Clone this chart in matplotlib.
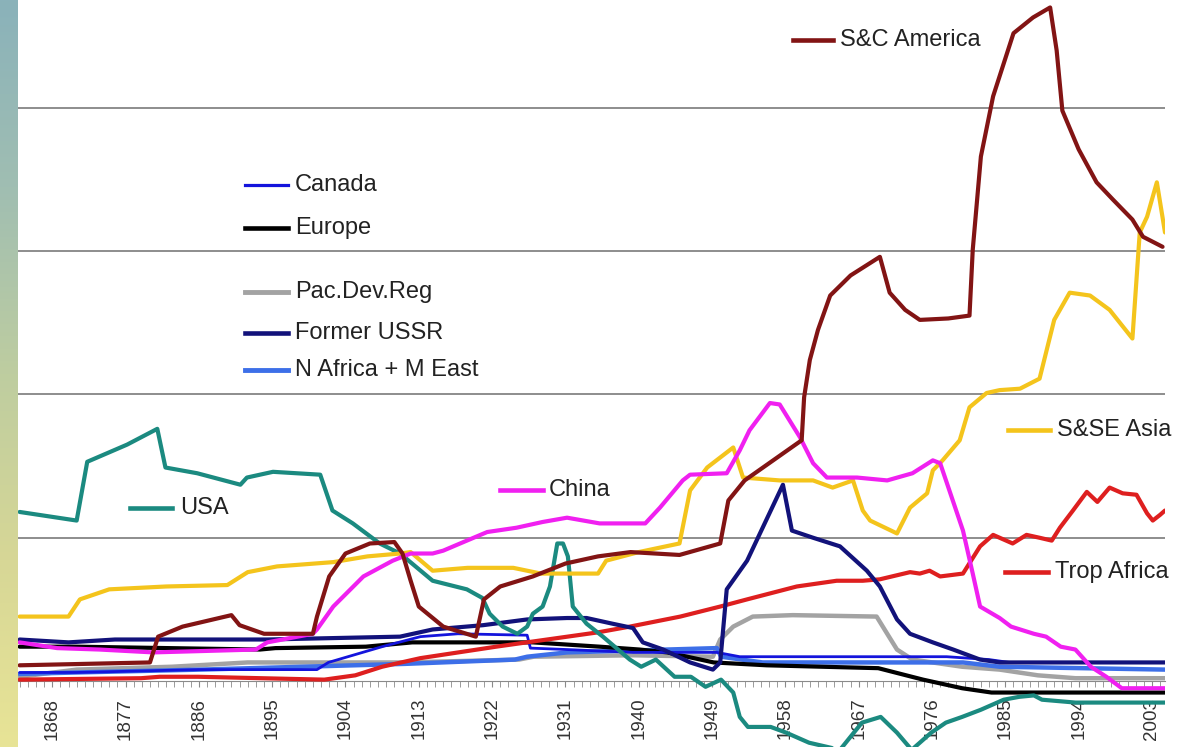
import numpy as np
import matplotlib
matplotlib.use("Agg")
import matplotlib.pyplot as plt
from matplotlib.lines import Line2D

plt.rcParams['font.family'] = ['Liberation Sans', 'DejaVu Sans']

# ---- data (one grid step = 1 unit) ----
usa_years = [1864, 1871, 1872.3, 1877.2, 1880.9, 1881.9, 1885.8, 1891.1, 1891.9, 1895.1,
             1900.9, 1902.4, 1904.9, 1908.2, 1910.7, 1914.7, 1918.9, 1920.8, 1921.7, 1923.3,
             1925.1, 1926.3, 1927.0, 1928.2, 1929.1, 1930.0, 1930.7, 1931.3, 1931.9, 1933.6,
             1935.6, 1938.9, 1940.3, 1942.1, 1944.4, 1946.4, 1948.2, 1950.1, 1951.6, 1952.4,
             1953.4, 1956.2, 1958.1, 1960.9, 1964.7, 1967.4, 1969.7, 1971.7, 1973.5, 1975.9,
             1977.7, 1979.7, 1982.0, 1984.8, 1986.7, 1988.5, 1989.5, 1993.6, 2004.6]
usa_vals = [1.18, 1.12, 1.53, 1.65, 1.76, 1.49, 1.45, 1.37, 1.42, 1.46,
            1.44, 1.19, 1.10, 0.96, 0.89, 0.70, 0.64, 0.58, 0.47, 0.38,
            0.33, 0.38, 0.47, 0.52, 0.66, 0.96, 0.96, 0.87, 0.52, 0.40,
            0.31, 0.15, 0.10, 0.15, 0.03, 0.03, -0.04, 0.01, -0.08, -0.25,
            -0.32, -0.32, -0.36, -0.43, -0.48, -0.29, -0.25, -0.36, -0.48, -0.36,
            -0.29, -0.25, -0.20, -0.13, -0.11, -0.10, -0.13, -0.15, -0.15]

sca_years = [1864, 1880, 1881, 1884, 1890, 1891, 1894, 1900, 1900.5, 1902,
             1904, 1907, 1910, 1911, 1912, 1913, 1916, 1920, 1921, 1923,
             1927, 1931, 1935, 1939, 1945, 1950, 1951, 1953, 1956, 1960,
             1960.3, 1961, 1962, 1963.5, 1966, 1969.6, 1970.8, 1972.7, 1974.5, 1978,
             1980.6, 1981, 1982, 1983.5, 1986, 1988.4, 1990.5, 1991.3, 1992, 1994,
             1996.2, 1998.2, 2000.6, 2001.9, 2004.3]
sca_vals = [0.11, 0.13, 0.31, 0.38, 0.46, 0.39, 0.33, 0.33, 0.45, 0.73,
            0.89, 0.96, 0.97, 0.89, 0.70, 0.52, 0.38, 0.31, 0.57, 0.66,
            0.73, 0.82, 0.87, 0.90, 0.88, 0.96, 1.26, 1.40, 1.52, 1.68,
            1.98, 2.24, 2.45, 2.69, 2.83, 2.96, 2.71, 2.59, 2.52, 2.53,
            2.55, 3.01, 3.66, 4.08, 4.52, 4.63, 4.70, 4.40, 3.98, 3.71,
            3.48, 3.36, 3.22, 3.10, 3.03]

asia_years = [1864, 1870, 1871.4, 1875, 1882, 1889.5, 1892, 1895.6, 1902.5, 1906.7,
              1910.7, 1912, 1914.7, 1919, 1924.6, 1928, 1935, 1936, 1940, 1945,
              1946.3, 1948.4, 1951.6, 1952.8, 1957.3, 1961.4, 1963.8, 1966.3, 1967.5, 1968.4,
              1971.7, 1973.3, 1975.4, 1976.1, 1977.3, 1979.4, 1980.6, 1982.7, 1984.3, 1986.8,
              1989.2, 1991, 1992.9, 1995.4, 1997.8, 2000.6, 2001.5, 2002.4, 2003.6, 2004.6]
asia_vals = [0.45, 0.45, 0.57, 0.64, 0.66, 0.67, 0.76, 0.80, 0.83, 0.87,
             0.89, 0.90, 0.77, 0.79, 0.79, 0.75, 0.75, 0.84, 0.90, 0.96,
             1.33, 1.49, 1.63, 1.42, 1.40, 1.40, 1.35, 1.40, 1.19, 1.12,
             1.03, 1.21, 1.31, 1.47, 1.54, 1.68, 1.91, 2.01, 2.03, 2.04,
             2.11, 2.52, 2.71, 2.69, 2.59, 2.39, 3.13, 3.24, 3.48, 3.13]

china_years = [1864, 1868.6, 1873.8, 1880.4, 1893, 1894.4, 1900, 1900.5, 1902.5, 1906.2,
               1909.8, 1912, 1914.7, 1916, 1918.9, 1921.4, 1925, 1928.2, 1931.2, 1933.2,
               1935.2, 1940.8, 1942.6, 1945.4, 1946.3, 1950.8, 1952.4, 1953.6, 1956.1, 1957.3,
               1959.8, 1961.4, 1963.1, 1966.8, 1970.5, 1973.6, 1976.1, 1977, 1979.8, 1981,
               1981.9, 1984.3, 1985.7, 1988.5, 1990, 1991.8, 1993.6, 1995.5, 1997.4, 1999.3,
               2004.6]
china_vals = [0.27, 0.23, 0.22, 0.20, 0.22, 0.27, 0.33, 0.36, 0.52, 0.73,
              0.84, 0.89, 0.89, 0.91, 0.98, 1.04, 1.07, 1.11, 1.14, 1.12,
              1.10, 1.10, 1.21, 1.40, 1.44, 1.45, 1.61, 1.75, 1.94, 1.93,
              1.70, 1.52, 1.42, 1.42, 1.40, 1.45, 1.54, 1.52, 1.05, 0.75,
              0.52, 0.44, 0.38, 0.33, 0.31, 0.24, 0.22, 0.10, 0.03, -0.05,
              -0.05]

ussr_years = [1864, 1870, 1875.7, 1894.4, 1910.7, 1914.7, 1920.9, 1926.3, 1931.2, 1933.6,
              1936.8, 1939.3, 1940.5, 1943, 1946.3, 1949.1, 1950, 1950.8, 1953.3, 1957.7,
              1958.8, 1961.4, 1964.7, 1968, 1969.6, 1971.7, 1973.3, 1976.1, 1978.6, 1981.9,
              1984.3, 2004.6]
ussr_vals = [0.29, 0.27, 0.29, 0.29, 0.31, 0.36, 0.39, 0.43, 0.44, 0.44,
             0.40, 0.37, 0.27, 0.22, 0.13, 0.08, 0.13, 0.64, 0.84, 1.37,
             1.05, 1.00, 0.94, 0.77, 0.66, 0.43, 0.33, 0.27, 0.22, 0.15,
             0.13, 0.13]

canada_years = [1864, 1871, 1886, 1900.5, 1901.9, 1908.5, 1913.2, 1917.8, 1926.3, 1926.7,
                1931.2, 1939.3, 1949.6, 1952.4, 1977.8, 1983, 1985.5, 2004.6]
canada_vals = [0.06, 0.06, 0.08, 0.08, 0.13, 0.24, 0.31, 0.33, 0.32, 0.23,
               0.22, 0.20, 0.20, 0.17, 0.17, 0.15, 0.13, 0.13]

europe_years = [1864, 1871, 1893.5, 1895.4, 1906.5, 1912.2, 1918.9, 1927, 1935.2, 1940.1,
                1943.5, 1949.2, 1955.7, 1969.4, 1974.9, 1979.7, 1983.3, 2004.6]
europe_vals = [0.24, 0.24, 0.22, 0.23, 0.24, 0.27, 0.27, 0.27, 0.24, 0.22,
               0.20, 0.13, 0.11, 0.09, 0.01, -0.05, -0.08, -0.08]

pac_years = [1864, 1871, 1882.7, 1892, 1911.3, 1925.3, 1927.1, 1939.3, 1949.1, 1950,
             1951.6, 1954, 1958.9, 1969.2, 1970.5, 1971.7, 1973.6, 1979.7, 1984.3, 1989,
             1993.6, 2004.6]
pac_vals = [0.03, 0.08, 0.10, 0.13, 0.13, 0.15, 0.17, 0.18, 0.17, 0.29,
            0.38, 0.45, 0.46, 0.45, 0.33, 0.22, 0.15, 0.10, 0.08, 0.04,
            0.02, 0.02]

nafr_years = [1864, 1871, 1886.2, 1911.3, 1924.8, 1926.3, 1931.2, 1949.6, 1950.1, 1955.2,
              1979.8, 1984.3, 2004.6]
nafr_vals = [0.05, 0.06, 0.08, 0.12, 0.15, 0.17, 0.20, 0.23, 0.17, 0.13,
             0.13, 0.10, 0.08]

trop_years = [1864, 1878.9, 1881.2, 1885.9, 1901.4, 1905.2, 1908.5, 1913.2, 1922.5, 1935,
              1938.9, 1945.1, 1950, 1953.3, 1959.4, 1964.3, 1967.5, 1969.6, 1973.3, 1974.5,
              1975.7, 1977, 1979.8, 1981.9, 1983.5, 1985.9, 1987.6, 1989.2, 1990.7, 1991.7,
              1993.3, 1995, 1996.3, 1997.8, 1999.4, 2001.1, 2002.4, 2003.1, 2004, 2004.6]
trop_vals = [0.01, 0.02, 0.03, 0.03, 0.01, 0.04, 0.10, 0.16, 0.24, 0.34,
             0.38, 0.45, 0.52, 0.57, 0.66, 0.70, 0.70, 0.71, 0.76, 0.75,
             0.77, 0.73, 0.75, 0.94, 1.02, 0.96, 1.02, 1.00, 0.98, 1.07,
             1.19, 1.32, 1.25, 1.35, 1.31, 1.30, 1.17, 1.12, 1.16, 1.19]

tick_years = list(range(1868, 2004, 9))

# (name, years, values, colour, width)
series = [
    ("Pac.Dev.Reg", pac_years, pac_vals, "#a3a3a3", 3.2),
    ("N Africa + M East", nafr_years, nafr_vals, "#3d6fe8", 3.2),
    ("Europe", europe_years, europe_vals, "#000000", 3.0),
    ("Canada", canada_years, canada_vals, "#1414dc", 2.0),
    ("Trop Africa", trop_years, trop_vals, "#de1f1f", 3.0),
    ("Former USSR", ussr_years, ussr_vals, "#12127a", 3.0),
    ("USA", usa_years, usa_vals, "#1b8a80", 3.0),
    ("S&SE Asia", asia_years, asia_vals, "#f4c41c", 3.0),
    ("China", china_years, china_vals, "#f020f0", 3.0),
    ("S&C America", sca_years, sca_vals, "#821414", 3.0),
]

# label placement in pixels: line start, line end, y, text x
tags = {
    "S&C America": (793, 833, 40, 840),
    "Canada": (245, 288, 185, 295),
    "Europe": (245, 288, 228, 295),
    "Pac.Dev.Reg": (245, 288, 292, 295),
    "Former USSR": (245, 288, 333, 295),
    "N Africa + M East": (245, 288, 370, 295),
    "USA": (130, 172, 508, 180),
    "China": (500, 543, 490, 549),
    "S&SE Asia": (1008, 1050, 430, 1057),
    "Trop Africa": (1005, 1048, 572, 1055),
}

W, H = 1178, 747
fig = plt.figure(figsize=(W / 100, H / 100), dpi=100)
fig.patch.set_facecolor("white")

# decorative strip on the left edge
strip = fig.add_axes([0, 0, 18 / W, 1])
stops = np.array([[138, 178, 186], [160, 190, 178], [190, 205, 160], [215, 215, 150], [232, 228, 150]]) / 255
pos = np.linspace(0, 1, len(stops))
t = np.linspace(0, 1, 300)
grad = np.stack([np.interp(t, pos, stops[:, c]) for c in range(3)], axis=1)[:, None, :]
strip.imshow(grad, aspect="auto", extent=[0, 1, 0, 1])
strip.axis("off")

ax = fig.add_axes([18 / W, 0, 1147 / W, 1])
ax.set_xlim(1863.8, 2004.6)
ax.set_ylim(-0.46, 4.752)

for name, yrs, vals, col, lw in series:
    ax.plot(yrs, vals, color=col, lw=lw, solid_joinstyle="round", solid_capstyle="round")

# grid and axis
ax.set_yticks([1, 2, 3, 4])
ax.yaxis.grid(True, color="#7a7a7a", lw=1.2)
ax.tick_params(axis="y", length=0, labelleft=False)
ax.set_axisbelow(True)
for s in ["top", "right", "left"]:
    ax.spines[s].set_visible(False)
ax.spines["bottom"].set_position(("data", 0))
ax.spines["bottom"].set_color("#8a8a8a")
ax.spines["bottom"].set_zorder(0)

ax.set_xticks(tick_years)
ax.set_xticklabels([str(y) for y in tick_years], rotation=90, fontsize=13.5, color="#333333")
ax.set_xticks(np.arange(1864, 2005), minor=True)
ax.tick_params(axis="x", which="both", direction="out", length=4, color="#8a8a8a", pad=8)

# inline labels
colours = {name: (col, lw) for name, _, _, col, lw in series}
for name, (x0, x1, y, tx) in tags.items():
    col, lw = colours[name]
    fy = 1 - y / H
    fig.add_artist(Line2D([x0 / W, x1 / W], [fy, fy], color=col, lw=lw + 0.3,
                          transform=fig.transFigure))
    fig.text(tx / W, fy, name, fontsize=17, color="#222222", va="center", ha="left")

fig.savefig("out.png", dpi=100)
